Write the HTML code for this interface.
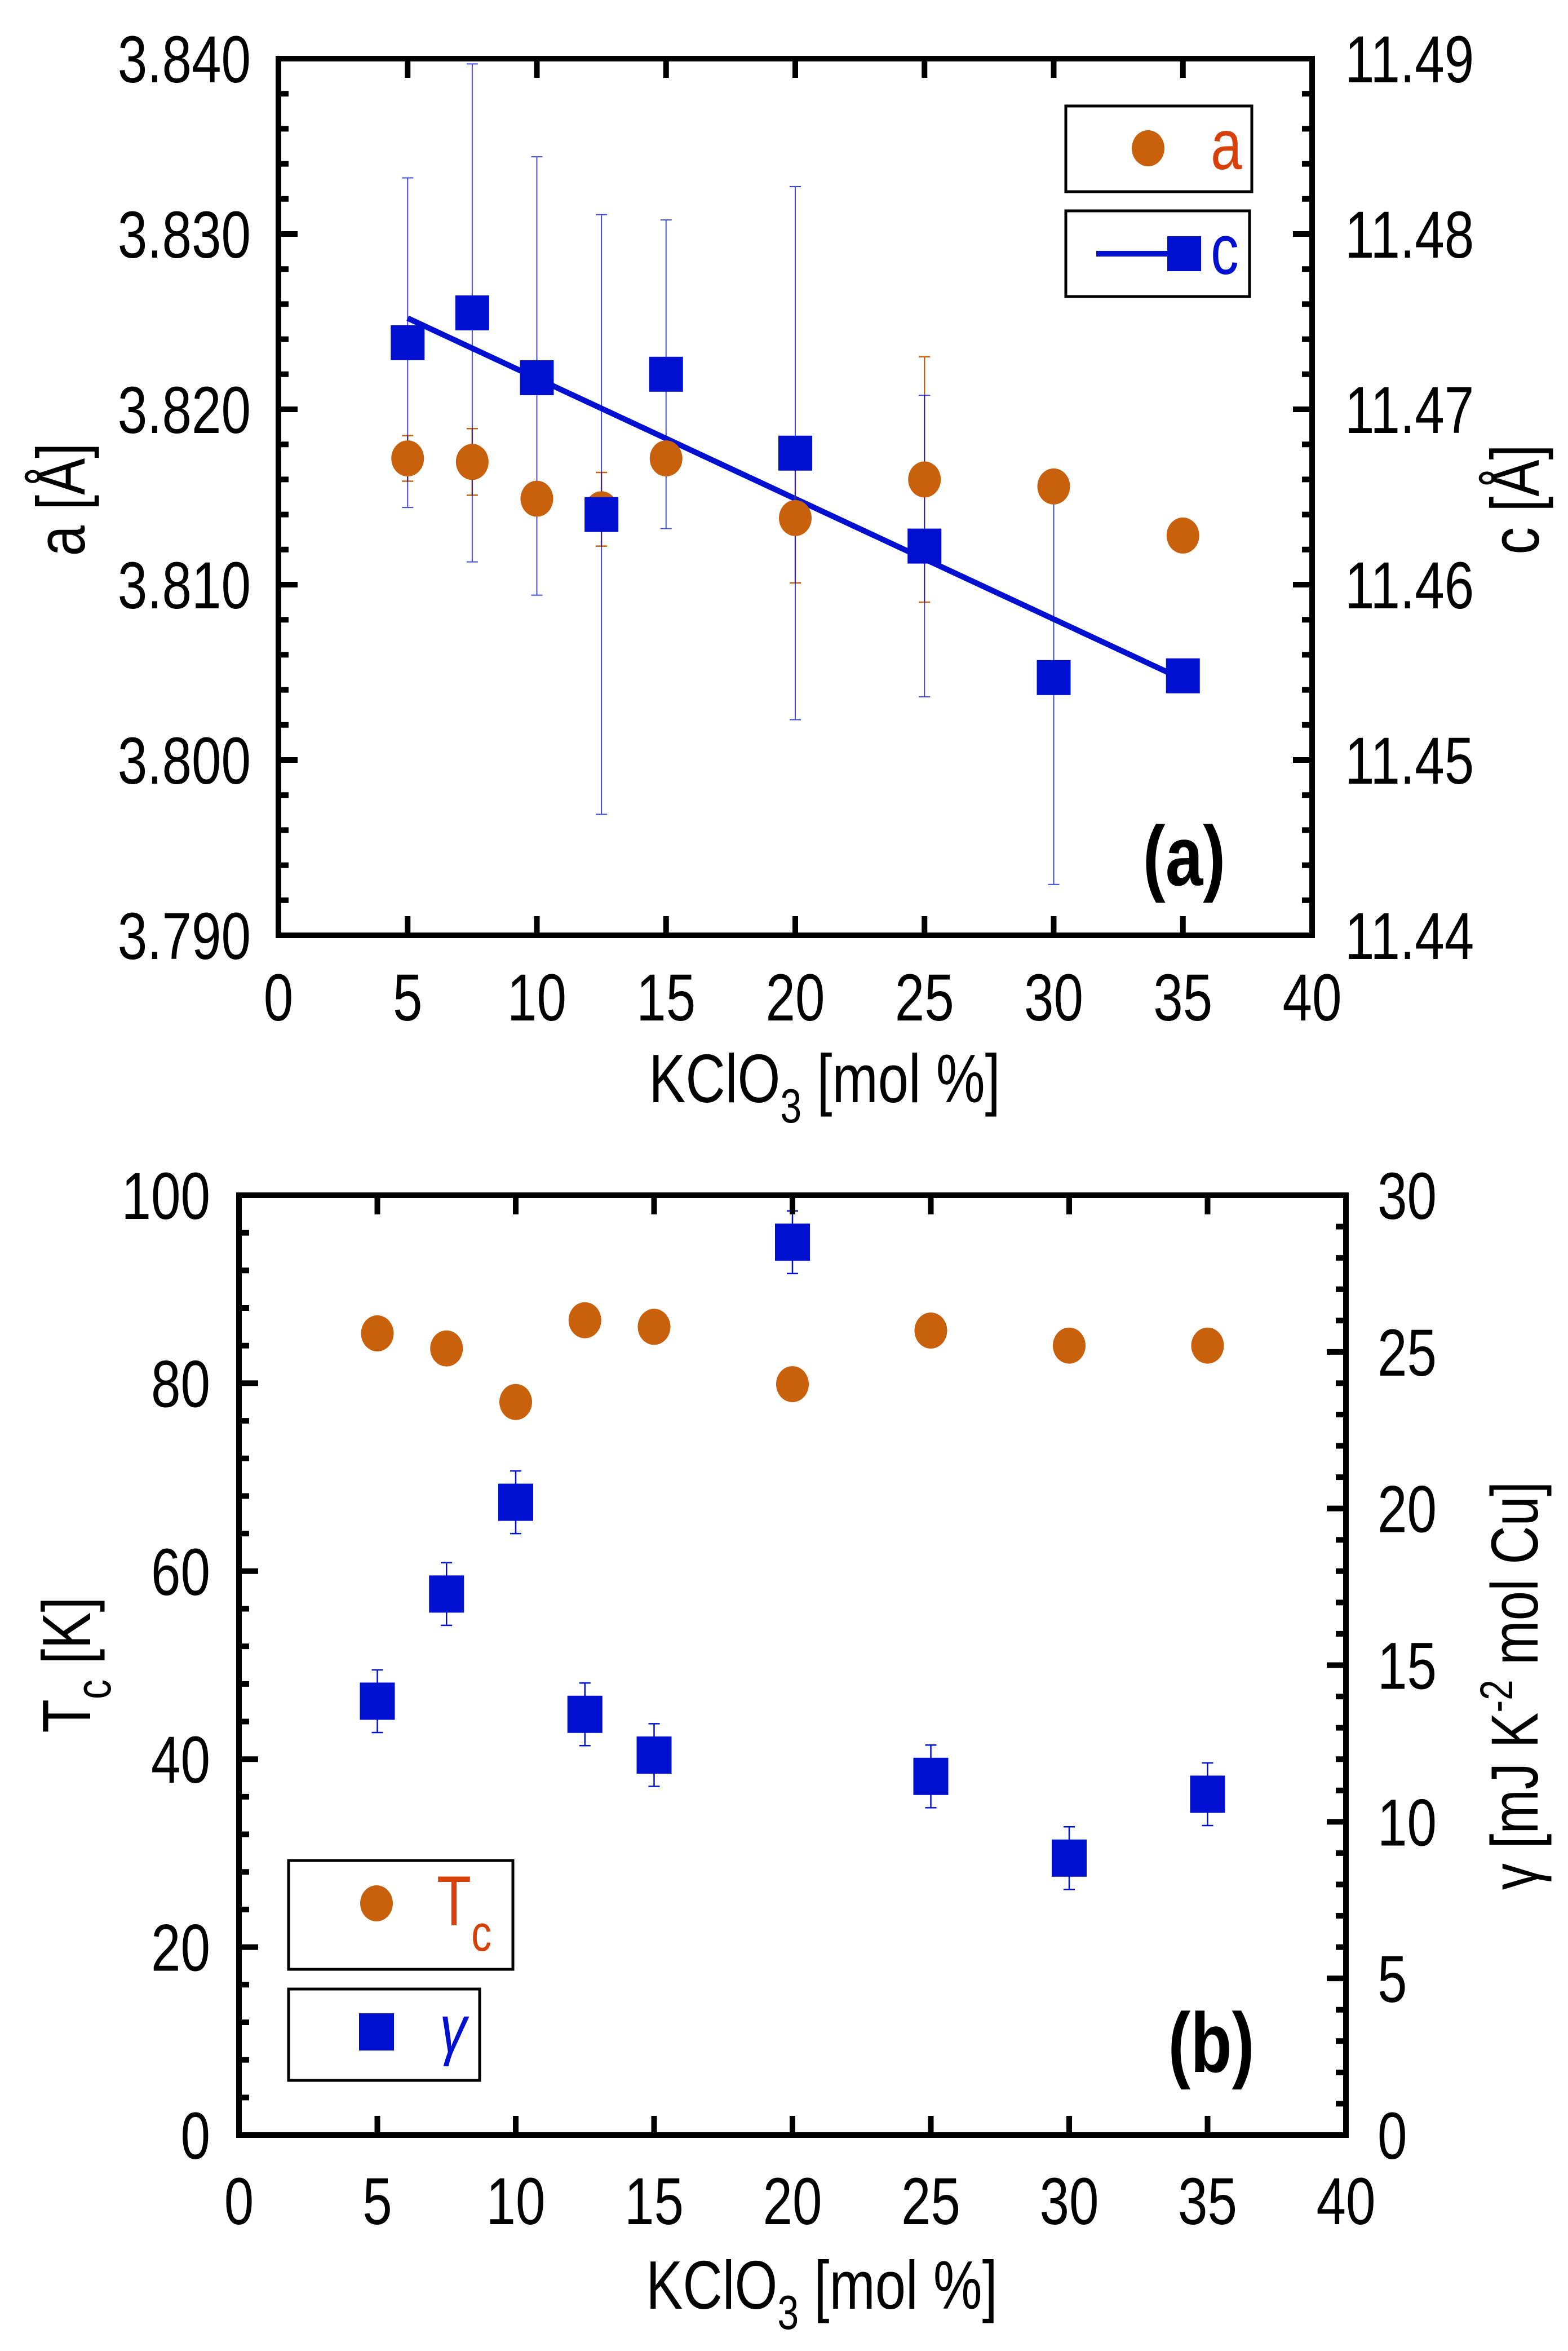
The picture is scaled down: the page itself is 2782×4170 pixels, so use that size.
<!DOCTYPE html>
<html><head><meta charset="utf-8"><style>
html,body{margin:0;padding:0;background:#fff}
svg{display:block}
text{font-family:"Liberation Sans",sans-serif}
</style></head><body>
<svg id="svg" width="2782" height="4170" viewBox="0 0 2782 4170" xmlns="http://www.w3.org/2000/svg">
<g id="pa"></g>
<g id="pb"></g>
</svg>
<script>
// Panel (a) data
const xA = [5, 7.5, 10, 12.5, 15, 20, 25, 30, 35];
const aVals = [3.8172, 3.8170, 3.8149, 3.8143, 3.8172, 3.8138, 3.8160, 3.8156, 3.8128];
const aErr = [0.0013, 0.0019, 0.0, 0.0021, 0.0, 0.0037, 0.0070, 0.0009, 0.0];
const cVals = [11.4738, 11.4755, 11.4718, 11.4640, 11.4720, 11.4675, 11.4622, 11.4547, 11.4548];
const cLow = [11.4644, 11.4613, 11.4594, 11.4469, 11.4632, 11.4523, 11.4536, 11.4429, 11.4548];
const cHigh = [11.4832, 11.4897, 11.4844, 11.4811, 11.4808, 11.4827, 11.4708, 11.4665, 11.4548];
const fitX = [5, 35];
const fitC = [11.4752, 11.4546];
const xTicks = [0, 5, 10, 15, 20, 25, 30, 35, 40];
const aTicks = ["3.790", "3.800", "3.810", "3.820", "3.830", "3.840"];
const cTicks = ["11.44", "11.45", "11.46", "11.47", "11.48", "11.49"];
// Panel (b) data
const xB = [5, 7.5, 10, 12.5, 15, 20, 25, 30, 35];
const tcVals = [85.3, 83.7, 78.0, 86.7, 86.0, 79.9, 85.6, 84.0, 84.0];
const gVals = [13.85, 17.27, 20.2, 13.43, 12.13, 28.5, 11.45, 8.84, 10.88];
const gErr = [1.0, 1.0, 1.0, 1.0, 1.0, 1.0, 1.0, 1.0, 1.0];
const tcTicks = [0, 20, 40, 60, 80, 100];
const gTicks = [0, 5, 10, 15, 20, 25, 30];

const NS = "http://www.w3.org/2000/svg";
const ORANGE = "#c8600c", BLUE = "#0010d0", LABRED = "#d8400a";
const SX = 0.8;
function mk(parent, tag, attrs, txt) {
  const e = document.createElementNS(NS, tag);
  for (const k in attrs) e.setAttribute(k, attrs[k]);
  if (txt !== undefined) e.textContent = txt;
  parent.appendChild(e);
  return e;
}
// condensed text placed at (x,y), optional rotation
function ctext(parent, x, y, size, anchor, extra, rot) {
  const a = Object.assign({x: 0, y: 0, "font-size": size, "text-anchor": anchor,
    transform: `translate(${x},${y})` + (rot ? ` rotate(${rot})` : "") + ` scale(${SX},1)`}, extra || {});
  return mk(parent, "text", a);
}
function lin(d0, d1, p0, p1) { return v => p0 + (v - d0) * (p1 - p0) / (d1 - d0); }

function frame(g, L, R, T, B) {
  const r = mk(g, "rect", {x: L, y: T, width: R - L, height: B - T, fill: "none", stroke: "#000", "stroke-width": 10});
  
  
}
function xAxis(g, sx, T, B, labelY) {
  xTicks.forEach(v => {
    const x = sx(v);
    const t = mk(g, "path", {d: `M${x},${B}V${B - 34}M${x},${T}V${T + 34}`, stroke: "#000", "stroke-width": 10});
    
    
    const l = ctext(g, x, labelY, 118, "middle");
    l.textContent = String(v);
    
    
  });
}
function yTicksDraw(g, ys, vmin, vmax, major, minor, L, R, side) {
  const n = Math.round((vmax - vmin) / minor);
  for (let i = 0; i <= n; i++) {
    const v = vmin + i * minor;
    const isMaj = Math.abs(((v - vmin) / major) - Math.round((v - vmin) / major)) < 1e-6;
    const len = isMaj ? 34 : 18;
    const y = ys(v);
    const d = side === "left" ? `M${L},${y}H${L + len}` : `M${R},${y}H${R - len}`;
    const t = mk(g, "path", {d: d, stroke: "#000", "stroke-width": 10});
    
    
  }
}

// ---------- Panel A ----------
(function () {
  const g = document.getElementById("pa");
  const L = 494, R = 2328, T = 104, B = 1659;
  const sx = lin(0, 40, L, R);
  const sa = lin(3.790, 3.840, B, T);
  const sc = lin(11.44, 11.49, B, T);
  const fl = mk(g, "line", {x1: sx(fitX[0]), y1: sc(fitC[0]), x2: sx(fitX[1]), y2: sc(fitC[1]), stroke: BLUE, "stroke-width": 10});
  
  
  xA.forEach((x, i) => {
    if (aErr[i] > 0) {
      const cx = sx(x), y1 = sa(aVals[i] - aErr[i]), y2 = sa(aVals[i] + aErr[i]);
      const e = mk(g, "path", {d: `M${cx},${y1}V${y2}M${cx - 10},${y1}H${cx + 10}M${cx - 10},${y2}H${cx + 10}`, stroke: ORANGE, "stroke-width": 2.5, fill: "none"});
      
      
    }
  });
  xA.forEach((x, i) => {
    const cx = sx(x), y1 = sc(cLow[i]), y2 = sc(cHigh[i]);
    const e = mk(g, "path", {d: `M${cx},${y1}V${y2}M${cx - 10},${y1}H${cx + 10}M${cx - 10},${y2}H${cx + 10}`, stroke: BLUE, "stroke-width": 2, fill: "none", opacity: 0.75});
    
    
  });
  xA.forEach((x, i) => {
    const p = mk(g, "ellipse", {cx: sx(x), cy: sa(aVals[i]), rx: 29, ry: 32, fill: ORANGE});
    
    
  });
  xA.forEach((x, i) => {
    const p = mk(g, "rect", {x: sx(x) - 30, y: sc(cVals[i]) - 31, width: 60, height: 62, fill: BLUE});
    
    
  });
  frame(g, L, R, T, B);
  xAxis(g, sx, T, B, 1810);
  yTicksDraw(g, sa, 3.790, 3.840, 0.01, 0.002, L, R, "left");
  yTicksDraw(g, sc, 11.44, 11.49, 0.01, 0.002, L, R, "right");
  aTicks.forEach((s, i) => {
    const l = ctext(g, 445, sa(3.790 + i * 0.01) + 42, 118, "end");
    l.textContent = s;
    
    
  });
  cTicks.forEach((s, i) => {
    const l = ctext(g, 2386, sc(11.44 + i * 0.01) + 42, 118, "start");
    l.textContent = s;
    
    
  });
  const b1 = mk(g, "rect", {x: 1891, y: 188, width: 330, height: 152, fill: "#fff", stroke: "#000", "stroke-width": 5});
  
  
  const lc = mk(g, "ellipse", {cx: 2037, cy: 263, rx: 29, ry: 32, fill: ORANGE});
  
  
  const la = ctext(g, 2148, 300, 125, "start", {fill: LABRED});
  la.textContent = "a";
  
  
  const b2 = mk(g, "rect", {x: 1891, y: 374, width: 326, height: 152, fill: "#fff", stroke: "#000", "stroke-width": 5});
  
  
  const ll = mk(g, "line", {x1: 1945, y1: 450, x2: 2128, y2: 450, stroke: BLUE, "stroke-width": 10});
  
  
  const ls = mk(g, "rect", {x: 2071, y: 419, width: 60, height: 62, fill: BLUE});
  
  
  const lcT = ctext(g, 2148, 486, 125, "start", {fill: BLUE});
  lcT.textContent = "c";
  
  
  const pl = ctext(g, 2101, 1570, 150, "middle", {"font-weight": "bold"});
  pl.textContent = "(a)";
  
  
  const xt = ctext(g, 1463, 1955, 122, "middle");
  
  
  xt.innerHTML = 'KClO<tspan dy="36" font-size="85">3</tspan><tspan dy="-36"> [mol %]</tspan>';
  const yl = ctext(g, 150, 886, 122, "middle", null, -90);
  yl.textContent = "a [Å]";
  
  
  const yr = ctext(g, 2730, 886, 122, "middle", null, -90);
  yr.textContent = "c [Å]";
  
  
})();

// ---------- Panel B ----------
(function () {
  const g = document.getElementById("pb");
  const L = 424, R = 2388, T = 2120, B = 3787;
  const sx = lin(0, 40, L, R);
  const st = lin(0, 100, B, T);
  const sg = lin(0, 30, B, T);
  xB.forEach((x, i) => {
    const cx = sx(x), y1 = sg(gVals[i] - gErr[i]), y2 = sg(gVals[i] + gErr[i]);
    const e = mk(g, "path", {d: `M${cx},${y1}V${y2}M${cx - 10},${y1}H${cx + 10}M${cx - 10},${y2}H${cx + 10}`, stroke: BLUE, "stroke-width": 2.5, fill: "none"});
    
    
  });
  xB.forEach((x, i) => {
    const p = mk(g, "ellipse", {cx: sx(x), cy: st(tcVals[i]), rx: 29, ry: 32, fill: ORANGE});
    
    
  });
  xB.forEach((x, i) => {
    const p = mk(g, "rect", {x: sx(x) - 31, y: sg(gVals[i]) - 33, width: 62, height: 66, fill: BLUE});
    
    
  });
  frame(g, L, R, T, B);
  xAxis(g, sx, T, B, 3945);
  yTicksDraw(g, st, 0, 100, 20, 4, L, R, "left");
  yTicksDraw(g, sg, 0, 30, 5, 1, L, R, "right");
  tcTicks.forEach(v => {
    const l = ctext(g, 373, st(v) + 42, 118, "end");
    l.textContent = String(v);
    
    
  });
  gTicks.forEach(v => {
    const l = ctext(g, 2444, sg(v) + 42, 118, "start");
    l.textContent = String(v);
    
    
  });
  const b1 = mk(g, "rect", {x: 512, y: 3300, width: 398, height: 193, fill: "#fff", stroke: "#000", "stroke-width": 5});
  
  
  const lc = mk(g, "ellipse", {cx: 668, cy: 3376, rx: 29, ry: 32, fill: ORANGE});
  
  
  const lt = ctext(g, 775, 3415, 125, "start", {fill: LABRED});
  
  
  lt.innerHTML = 'T<tspan dy="45" font-size="90">c</tspan>';
  const b2 = mk(g, "rect", {x: 512, y: 3528, width: 339, height: 162, fill: "#fff", stroke: "#000", "stroke-width": 5});
  
  
  const ls = mk(g, "rect", {x: 637, y: 3571, width: 62, height: 66, fill: BLUE});
  
  
  const lg = ctext(g, 780, 3640, 120, "start", {fill: BLUE, "font-family": "Liberation Serif, serif", "font-style": "italic"});
  lg.textContent = "γ";
  
  
  const pl = ctext(g, 2149, 3675, 150, "middle", {"font-weight": "bold"});
  pl.textContent = "(b)";
  
  
  const xt = ctext(g, 1458, 4095, 122, "middle");
  
  
  xt.innerHTML = 'KClO<tspan dy="36" font-size="85">3</tspan><tspan dy="-36"> [mol %]</tspan>';
  const yl = ctext(g, 160, 2953, 122, "middle", null, -90);
  
  
  yl.innerHTML = 'T<tspan dy="36" font-size="88">c</tspan><tspan dy="-36"> [K]</tspan>';
  const yr = ctext(g, 2728, 2990, 118, "middle", null, -90);
  
  
  yr.innerHTML = 'γ [mJ K<tspan dy="-45" font-size="82">-2</tspan><tspan dy="45"> mol Cu]</tspan>';
})();
</script>
</body></html>
